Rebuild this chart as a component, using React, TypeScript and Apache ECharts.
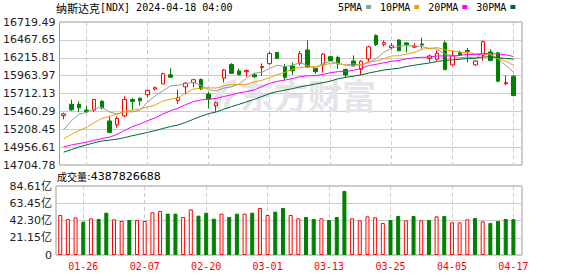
import React, { useEffect, useRef } from 'react';
import * as echarts from 'echarts';

// ---- data ----
const dates = [
  '01-23', '01-24', '01-25', '01-26', '01-29', '01-30', '01-31', '02-01', '02-02', '02-05',
  '02-06', '02-07', '02-08', '02-09', '02-12', '02-13', '02-14', '02-15', '02-16', '02-20',
  '02-21', '02-22', '02-23', '02-26', '02-27', '02-28', '02-29', '03-01', '03-04', '03-05',
  '03-06', '03-07', '03-08', '03-11', '03-12', '03-13', '03-14', '03-15', '03-18', '03-19',
  '03-20', '03-21', '03-22', '03-25', '03-26', '03-27', '03-28', '04-01', '04-02', '04-03',
  '04-04', '04-05', '04-08', '04-09', '04-10', '04-11', '04-12', '04-15', '04-16', '04-17',
];
const opens = [
  15400, 15560, 15560, 15478, 15478, 15603, 15326, 15271, 15397, 15626,
  15645, 15695, 15774, 15847, 15975, 15615, 15806, 15866, 15910, 15704,
  15540, 15928, 16120, 16030, 16020, 15975, 16077, 16133, 16290, 16090,
  16100, 16140, 16325, 16065, 16112, 16230, 16220, 16052, 16170, 16052,
  16200, 16530, 16405, 16360, 16465, 16425, 16365, 16410, 16207, 16195,
  16425, 16115, 16290, 16318, 16115, 16252, 16298, 16285, 15850, 15955,
];
const closes = [
  15425.94, 15481.92, 15510.5, 15455.36, 15628.04, 15509.9, 15164.01, 15361.64, 15628.95, 15597.68,
  15609.0, 15756.64, 15793.72, 15990.66, 15942.55, 15655.6, 15859.15, 15906.17, 15775.65, 15630.78,
  15580.87, 16041.62, 15996.82, 15976.25, 16035.3, 15947.74, 16091.92, 16274.94, 16207.51, 15939.59,
  16031.54, 16273.38, 16085.11, 16019.27, 16265.64, 16177.77, 16128.53, 15973.17, 16103.45, 16166.79,
  16369.41, 16401.84, 16428.82, 16384.47, 16315.7, 16399.52, 16379.46, 16396.83, 16240.45, 16277.46,
  16049.08, 16248.52, 16253.96, 16306.64, 16170.36, 16442.2, 16175.09, 15885.02, 15865.25, 15683.37,
];
const lows = [
  15350, 15465, 15446, 15440, 15451, 15488, 15160, 15230, 15377, 15479,
  15543, 15654, 15755, 15847, 15930, 15565, 15700, 15800, 15760, 15507,
  15455, 15866, 15990, 15970, 15946, 15930, 15960, 16120, 16200, 15900,
  15975, 16111, 16075, 15990, 16005, 16170, 16060, 15940, 16090, 15975,
  16160, 16380, 16375, 16330, 16305, 16290, 16355, 16344, 16152, 16175,
  16040, 16100, 16245, 16152, 16100, 16175, 16170, 15870, 15830, 15670,
];
const highs = [
  15442, 15626, 15603, 15543, 15635, 15617, 15391, 15391, 15672, 15649,
  15654, 15769, 15810, 16008, 16068, 15770, 15870, 15918, 15925, 15740,
  15600, 16058, 16140, 16060, 16050, 15995, 16135, 16300, 16300, 16130,
  16150, 16310, 16460, 16075, 16280, 16245, 16245, 16065, 16250, 16180,
  16385, 16545, 16460, 16425, 16480, 16440, 16420, 16500, 16262, 16320,
  16460, 16320, 16320, 16353, 16180, 16458, 16335, 16300, 15970, 15975,
];
// volume in 亿
const volumes = [
  49.05, 44.14, 46.19, 40.87, 44.96, 44.14, 51.91, 43.74, 41.69, 42.92,
  42.92, 41.69, 52.32, 53.95, 50.68, 50.68, 46.6, 56.0, 48.23, 51.91,
  44.55, 50.68, 46.6, 50.68, 50.68, 51.91, 57.63, 49.05, 53.14, 57.63,
  49.05, 44.96, 46.6, 44.14, 44.96, 42.92, 46.6, 78.48, 44.96, 42.51,
  47.41, 46.19, 39.24, 42.92, 47.82, 42.51, 47.82, 42.51, 42.92, 47.41,
  47.82, 40.06, 40.06, 43.74, 45.37, 41.28, 39.24, 41.69, 44.14, 43.88,
];
const prevClose = 15360.29; // close of the day before the first candle (volume colour)
const ma5 = [
  15201.69, 15326.95, 15417.92, 15446.8, 15500.35, 15517.14, 15453.56, 15423.79, 15458.51, 15452.44,
  15472.26, 15590.78, 15677.2, 15749.54, 15818.51, 15827.83, 15848.34, 15870.83, 15827.82, 15765.47,
  15750.52, 15787.02, 15805.15, 15845.27, 15926.17, 15999.55, 16009.61, 16065.23, 16111.48, 16092.34,
  16109.1, 16145.39, 16107.43, 16069.78, 16134.99, 16164.23, 16135.26, 16112.88, 16129.71, 16109.94,
  16148.27, 16202.93, 16294.06, 16350.27, 16380.05, 16386.07, 16381.59, 16375.2, 16346.39, 16338.74,
  16268.66, 16242.47, 16213.89, 16227.13, 16205.71, 16284.34, 16269.65, 16195.86, 16107.58, 16010.19,
];
const ma10 = [
  15072.31, 15134.73, 15188.82, 15237.34, 15302.86, 15359.42, 15390.26, 15420.86, 15452.66, 15476.39,
  15494.7, 15522.17, 15550.49, 15604.02, 15635.48, 15650.05, 15719.56, 15774.01, 15788.68, 15791.99,
  15789.18, 15817.68, 15837.99, 15836.55, 15845.82, 15875.04, 15898.31, 15935.19, 15978.38, 16009.26,
  16054.32, 16077.5, 16086.33, 16090.63, 16113.66, 16136.67, 16140.33, 16110.15, 16099.75, 16122.47,
  16156.25, 16169.1, 16203.47, 16239.99, 16244.99, 16267.17, 16292.26, 16334.63, 16348.33, 16359.4,
  16327.36, 16312.03, 16294.55, 16286.76, 16272.23, 16276.5, 16256.06, 16204.88, 16167.36, 16107.95,
];
const ma20 = [
  14961.63, 14986.08, 15007.88, 15025.68, 15052.33, 15077.26, 15097.16, 15135.63, 15191.56, 15245.25,
  15283.51, 15328.45, 15369.66, 15420.68, 15469.17, 15504.73, 15554.91, 15597.43, 15620.67, 15634.19,
  15641.94, 15669.92, 15694.24, 15720.29, 15740.65, 15762.54, 15808.94, 15854.6, 15883.53, 15900.62,
  15921.75, 15947.59, 15962.16, 15963.59, 15979.74, 16005.85, 16019.32, 16022.67, 16039.06, 16065.86,
  16105.29, 16123.3, 16144.9, 16165.31, 16179.33, 16201.92, 16216.3, 16222.39, 16224.04, 16240.93,
  16241.81, 16240.56, 16249.01, 16263.38, 16258.61, 16271.83, 16274.16, 16269.75, 16257.84, 16233.67,
];
const ma30 = [
  14885.39, 14921.32, 14957.26, 14987.99, 15017.79, 15042.74, 15054.41, 15069.63, 15090.49, 15117.82,
  15139.32, 15164.78, 15188.75, 15218.46, 15246.71, 15268.19, 15304.63, 15348.43, 15390.6, 15427.49,
  15452.06, 15491.53, 15525.77, 15559.3, 15594.72, 15628.17, 15669.38, 15710.02, 15739.9, 15759.21,
  15779.4, 15805.78, 15824.94, 15843.73, 15864.99, 15887.25, 15919.4, 15939.78, 15955.6, 15974.57,
  15999.92, 16021.42, 16042.59, 16055.72, 16068.16, 16092.96, 16110.3, 16126.66, 16142.15, 16163.71,
  16179.31, 16186.21, 16194.78, 16205.79, 16210.3, 16226.78, 16229.55, 16216.55, 16205.14, 16196.6,
];
const priceTicks = [14704.78, 14956.61, 15208.45, 15460.29, 15712.13, 15963.97, 16215.81, 16467.65, 16719.49];
const volumeTicks = [0, 21.15, 42.3, 63.45, 84.61];
const dateTickIndices = [3, 11, 19, 27, 35, 43, 51, 59];
const maNames = ['5PMA', '10PMA', '20PMA', '30PMA'];
const titleName = '纳斯达克';
const titleCode = '[NDX] 2024-04-18 04:00';
const volumeLabel = '成交量';
const volumeValue = ':4387826688';
const watermarkText = '东方财富';

// ---- styles ----
const RED = '#ff0000';
const GREEN = '#008000';
const maColors = ['#9a9a9a', '#f0a000', '#ff00ff', '#006633'];
const GRID_LINE = '#cccccc';
const BORDER = '#9a9a9a';
const WATERMARK = '#e4e4ea';

echarts.graphic.registerShape(
  'emLogo',
  echarts.graphic.extendPath(
    'M24 0 C10 2 0 12 2 30 L8 30 C8 18 14 9 24 6 Z M24 12 C16 14 12 20 12 30 L17 30 C17 22 20 18 24 17 Z',
    {}
  ) as any
);

function buildOption(): any {
  const xMin = -0.55;
  const xMax = 60.12;
  const xCommon = {
    type: 'value',
    min: xMin,
    max: xMax,
    axisLine: { show: false },
    axisTick: { show: false, customValues: dateTickIndices },
    splitLine: { show: true, lineStyle: { color: GRID_LINE, type: [4, 3], width: 1 } },
  };
  const candleData = dates.map((_, i) => [i, opens[i], closes[i], lows[i], highs[i]]);
  const volData = volumes.map((v, i) => {
    const up = closes[i] >= (i === 0 ? prevClose : closes[i - 1]);
    return {
      value: [i, v],
      itemStyle: up
        ? { color: '#ffffff', borderColor: RED, borderWidth: 1 }
        : { color: GREEN, borderColor: GREEN, borderWidth: 1 },
    };
  });
  const maSeries = [ma5, ma10, ma20, ma30].map((arr, k) => ({
    name: maNames[k],
    type: 'line',
    xAxisIndex: 0,
    yAxisIndex: 0,
    data: arr.map((v, i) => [i, v]),
    showSymbol: false,
    symbol: 'none',
    color: maColors[k],
    itemStyle: { color: maColors[k] },
    lineStyle: { width: 1, color: maColors[k] },
    z: 3,
    silent: true,
  }));
  return {
    animation: false,
    backgroundColor: '#ffffff',
    title: [
      {
        text: `{cn|${titleName}}{en|${titleCode}}`,
        left: 56,
        top: 2,
        padding: 0,
        textStyle: {
          fontWeight: 'normal',
          rich: {
            cn: { fontFamily: 'Noto Sans CJK SC', fontSize: 11, fontWeight: 'normal', color: '#000' },
            en: { fontFamily: 'DejaVu Sans Mono', fontSize: 10, fontWeight: 'normal', color: '#000' },
          },
        },
      },
      {
        text: `{cn|${volumeLabel}}{en|${volumeValue}}`,
        left: 57,
        top: 171,
        padding: 0,
        textStyle: {
          fontWeight: 'normal',
          rich: {
            cn: { fontFamily: 'Noto Sans CJK SC', fontSize: 10, fontWeight: 'normal', color: '#000' },
            en: { fontFamily: 'DejaVu Sans', fontSize: 11, fontWeight: 'normal', color: '#000' },
          },
        },
      },
    ],
    legend: {
      data: maNames,
      left: 338,
      top: 2,
      icon: 'rect',
      itemWidth: 5,
      itemHeight: 4,
      itemGap: 9,
      align: 'right',
      selectedMode: false,
      padding: 0,
      textStyle: { fontFamily: 'DejaVu Sans Mono', fontSize: 10, color: '#000', padding: [0, -1, 0, 0] },
    },
    grid: [
      { left: 56, top: 22, width: 466, height: 143, show: true, borderColor: BORDER, borderWidth: 1, backgroundColor: 'transparent' },
      { left: 56, top: 186, width: 466, height: 69, show: true, borderColor: BORDER, borderWidth: 1, backgroundColor: 'transparent' },
    ],
    xAxis: [
      { ...xCommon, gridIndex: 0, axisLabel: { show: false } },
      {
        ...xCommon,
        gridIndex: 1,
        axisLabel: {
          show: true,
          customValues: dateTickIndices,
          formatter: (v: number) => dates[Math.round(v)],
          color: RED,
          fontFamily: 'DejaVu Sans Mono',
          fontSize: 10,
          margin: 6,
        },
      },
    ],
    yAxis: [
      {
        type: 'value',
        gridIndex: 0,
        min: priceTicks[0],
        max: priceTicks[priceTicks.length - 1],
        axisLine: { show: false },
        axisTick: { show: false, customValues: priceTicks },
        axisLabel: {
          customValues: priceTicks,
          formatter: (v: number) => v.toFixed(2),
          color: '#222',
          fontFamily: 'DejaVu Sans',
          fontSize: 11,
          margin: 4,
        },
        splitLine: { show: true, lineStyle: { color: GRID_LINE, width: 1 } },
      },
      {
        type: 'value',
        gridIndex: 1,
        min: volumeTicks[0],
        max: volumeTicks[volumeTicks.length - 1],
        axisLine: { show: false },
        axisTick: { show: false, customValues: volumeTicks },
        axisLabel: {
          customValues: volumeTicks,
          formatter: (v: number) => (v === 0 ? '0' : v.toFixed(2) + '亿'),
          color: '#222',
          fontFamily: 'DejaVu Sans, Noto Sans CJK SC',
          fontSize: 11,
          margin: 4,
        },
        splitLine: { show: true, lineStyle: { color: GRID_LINE, width: 1 } },
      },
    ],
    graphic: [
      {
        type: 'emLogo',
        x: 212,
        y: 79,
        z: 1,
        silent: true,
        style: { fill: WATERMARK },
      },
      {
        type: 'text',
        x: 240,
        y: 94,
        z: 1,
        silent: true,
        style: {
          text: watermarkText,
          fontSize: 34,
          fontWeight: 'bold',
          fontFamily: 'Noto Sans CJK SC',
          fill: WATERMARK,
          verticalAlign: 'middle',
          align: 'left',
        },
      },
    ],
    series: [
      {
        name: 'K',
        type: 'candlestick',
        xAxisIndex: 0,
        yAxisIndex: 0,
        data: candleData,
        encode: { x: 0, y: [1, 2, 3, 4] },
        barWidth: 4,
        z: 2,
        silent: true,
        itemStyle: {
          color: '#ffffff',
          color0: GREEN,
          borderColor: RED,
          borderColor0: GREEN,
          borderWidth: 1,
        },
      },
      ...maSeries,
      {
        name: 'VOL',
        type: 'bar',
        xAxisIndex: 1,
        yAxisIndex: 1,
        data: volData,
        barWidth: 4,
        silent: true,
        z: 2,
      },
    ],
  };
}

export default function App() {
  const ref = useRef<HTMLDivElement>(null);
  useEffect(() => {
    if (!ref.current) return;
    const chart = echarts.init(ref.current, null, { renderer: 'svg' });
    chart.setOption(buildOption());
    return () => {
      chart.dispose();
    };
  }, []);
  return (
    <div
      ref={ref}
      style={{ position: 'fixed', left: 0, top: 0, width: 578, height: 276, background: '#fff' }}
    />
  );
}
